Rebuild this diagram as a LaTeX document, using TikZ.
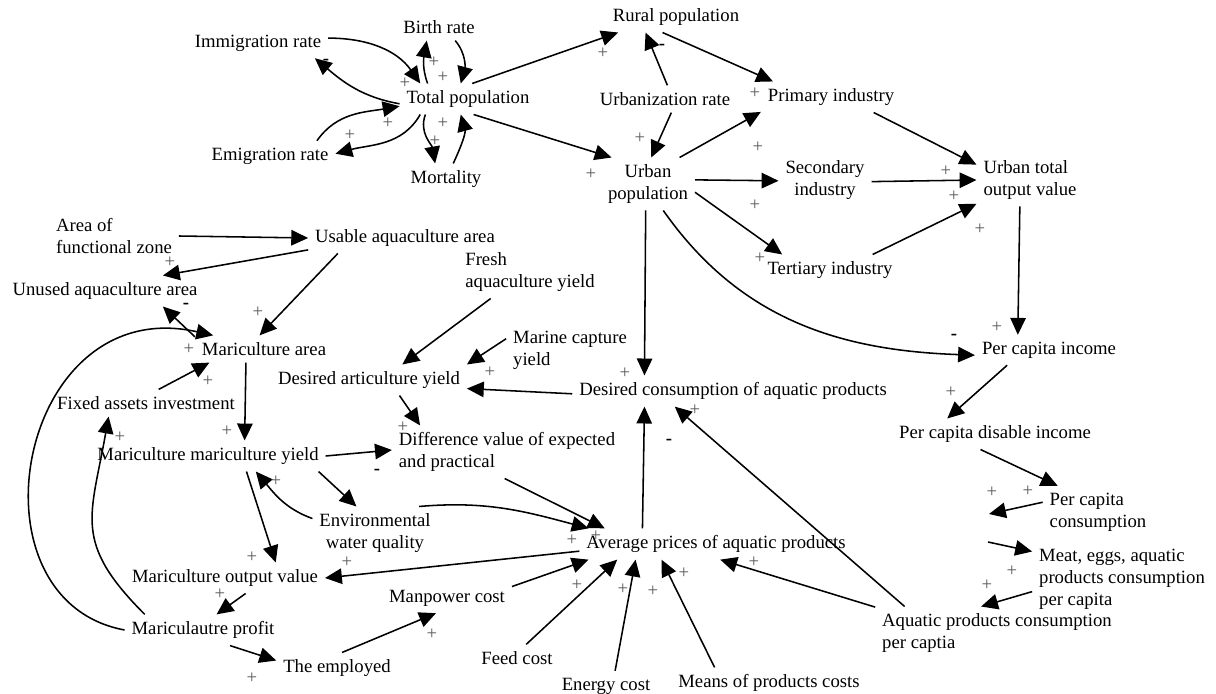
\documentclass[tikz,border=0pt]{standalone}
\usepackage{fontspec}
\setmainfont{Liberation Serif}
\usetikzlibrary{arrows.meta}

\begin{document}
\begin{tikzpicture}[x=0.025cm, y=-0.025cm,
  var/.style={inner sep=2pt, outer sep=3pt, font=\fontsize{13.3}{15.6}\selectfont},
  link/.style={line width=1.1pt, -{Triangle[length=12pt, width=11pt]}},
  plus/.style={inner sep=0pt, text=black!65, font=\fontsize{13.3}{15.6}\selectfont},
  minus/.style={inner sep=0pt, font=\bfseries\fontsize{13.3}{15.6}\selectfont}]
\useasboundingbox (0,0) rectangle (1216,694);

% Population and industry
\node[var] (imm) at (258,43) {Immigration rate};
\node[var] (birth) at (439,27) {Birth rate};
\node[var] (tp) at (468,99) {Total population};
\node[var] (emi) at (270,156) {Emigration rate};
\node[var] (mort) at (446,179) {Mortality};
\node[var] (rural) at (676,17) {Rural population};
\node[var] (urbr) at (665,99) {Urbanization rate};
\node[var] (prim) at (831,97) {Primary industry};
\node[var, align=center] (urban) at (648,184) {Urban\\population};
\node[var, align=center] (sec) at (825,180) {Secondary\\industry};
\node[var, align=left] (uto) at (1030,180) {Urban total\\output value};
\node[var] (ter) at (830,270) {Tertiary industry};
\node[var] (pci) at (1049,350) {Per capita income};
\node[var] (pcd) at (995,434) {Per capita disable income};
\node[var, align=left] (pcc) at (1098,512) {Per capita\\consumption};
\node[var, align=left] (meat) at (1122,579) {Meat, eggs, aquatic\\products consumption\\per capita};
\node[var, align=left] (apc) at (997,633) {Aquatic products consumption\\per captia};

% Mariculture
\node[var, align=left] (afz) at (114,236) {Area of\\functional zone};
\node[var] (usable) at (405,238) {Usable aquaculture area};
\node[var] (unused) at (105,291) {Unused aquaculture area};
\node[var, align=left] (fresh) at (530,272) {Fresh\\aquaculture yield};
\node[var] (marea) at (264,349) {Mariculture area};
\node[var, align=left] (marine) at (570,350) {Marine capture\\yield};
\node[var] (dart) at (369,380) {Desired articulture yield};
\node[var] (dcons) at (733,391) {Desired consumption of aquatic products};
\node[var] (fixed) at (146,403) {Fixed assets investment};
\node[var, align=left] (diff) at (507,452) {Difference value of expected\\and practical};
\node[var] (myield) at (208,456) {Mariculture mariculture yield};
\node[var, align=center] (env) at (375,533) {Environmental\\water quality};
\node[var] (avg) at (716,544) {Average prices of aquatic products};
\node[var] (mout) at (225,578) {Mariculture output value};
\node[var] (man) at (447,598) {Manpower cost};
\node[var] (profit) at (203,630) {Mariculautre profit};
\node[var] (emp) at (337,668) {The employed};
\node[var] (feed) at (517,658) {Feed cost};
\node[var] (energy) at (606,686) {Energy cost};
\node[var] (means) at (769,683) {Means of products costs};
\coordinate (gapin) at (989,514);
\coordinate (gapout) at (988,542);

% Links
\draw[link] (imm.4) to[out=0,in=125] (tp.162);
\draw[link] (tp.184) to[out=170,in=-40] (imm.-15);
\draw[link] (emi.18) to[out=55,in=190] (tp.186);
\draw[link] (tp.198) to[out=240,in=15] (emi.2);
\draw[link] (tp.159) to[out=110,in=-100] (birth.228);
\draw[link] (birth.-40) to[out=-50,in=75] (tp.115);
\draw[link] (tp.200) to[out=250,in=100] (mort.125);
\draw[link] (mort.65) to[out=65,in=-75] (tp.245);
\draw[link] (tp.75) -- (rural.195);
\draw[link] (tp.-70) -- (urban.144);
\draw[link] (urbr.80) -- (rural.207);
\draw[link] (urbr.-65) -- (urban.83);
\draw[link] (rural.229) -- (prim.165);
\draw[link] (urban.40) -- (prim.192);
\draw[link] (urban.5) -- (sec.181);
\draw[link] (urban.-10) -- (ter.162);
\draw[link] (prim.-20) -- (uto.164);
\draw[link] (sec.-2) -- (uto.180);
\draw[link] (ter.20) -- (uto.204);
\draw[link] (uto.249) -- (pci.154);
\draw[link] (urban.-60) to[out=-55,in=178] (pci.184);
\draw[link] (urban.-95) -- (dcons.170);
\draw[link] (pci.200) -- (pcd.162);
\draw[link] (pcd.227) -- (pcc.147);
\draw[link] (pcc.170) -- (gapin);
\draw[link] (gapout) -- (meat.163);
\draw[link] (meat.188) -- (apc.121);
\draw[link] (apc.164) -- (dcons.195);
\draw[link] (apc.168) -- (avg.-75);
\draw[link] (avg.168) -- (dcons.190);
\draw[link] (dcons.181) -- (dart.-5);
\draw[link] (marine.170) -- (dart.north east);
\draw[link] (fresh.214) -- (dart.25);
\draw[link] (dart.-27) -- (diff.163);
\draw[link] (myield.0) -- (diff.179);
\draw[link] (diff.-95) -- (avg.172);
\draw[link] (env.31) to[out=5,in=165] (avg.173);
\draw[link] (avg.183) -- (mout.0);
\draw[link] (man.10) -- (avg.187);
\draw[link] (feed.56) -- (avg.189);
\draw[link] (energy.59) -- (avg.191);
\draw[link] (means.164) -- (avg.196);
\draw[link] (myield.-8) -- (env.125);
\draw[link] (env.167) to[out=160,in=-50] (myield.-18);
\draw[link] (myield.-22) -- (mout.17);
\draw[link] (mout.-37) -- (profit.49);
\draw[link] (profit.-30) -- (emp.173);
\draw[link] (emp.72) -- (man.234);
\draw[link] (profit.165) to[out=135,in=-100,looseness=1.3] (fixed.200);
\draw[link] (profit.180) .. controls +(-162,-30) and +(-196,-44) .. (marea.165);
\draw[link] (marea.170) -- (unused.-15);
\draw[link] (usable.187) -- (unused.15);
\draw[link] (afz.0) -- (usable.180);
\draw[link] (usable.193) -- (marea.108);
\draw[link] (fixed.47) -- (marea.194);
\draw[link] (marea.217) -- (myield.23);

% Polarities
\foreach \x/\y [count=\i] in {405/83, 434/62, 443/77, 388/123, 350/135, 443/123, 435/141,
  603/53, 640/138, 591/174, 755/93, 758/147, 755/205, 760/258, 946/171, 954/196, 980/229,
  997/327, 951/392, 992/492, 1028/491, 1012/571, 987/585, 170/262, 258/312, 189/349,
  208/381, 227/431, 120/437, 490/372, 403/427, 625/373, 695/410, 276/481, 252/557,
  347/562, 220/594, 432/634, 252/678, 572/540, 596/536, 577/585, 623/589, 653/591,
  684/573, 754/562}
  \node[plus] (plus\i) at (\x,\y) {+};
\foreach \x/\y [count=\i] in {326/62, 662/47, 954/337, 186/306, 377/472, 669/442}
  \node[minus] (minus\i) at (\x,\y) {-};
\end{tikzpicture}
\end{document}
